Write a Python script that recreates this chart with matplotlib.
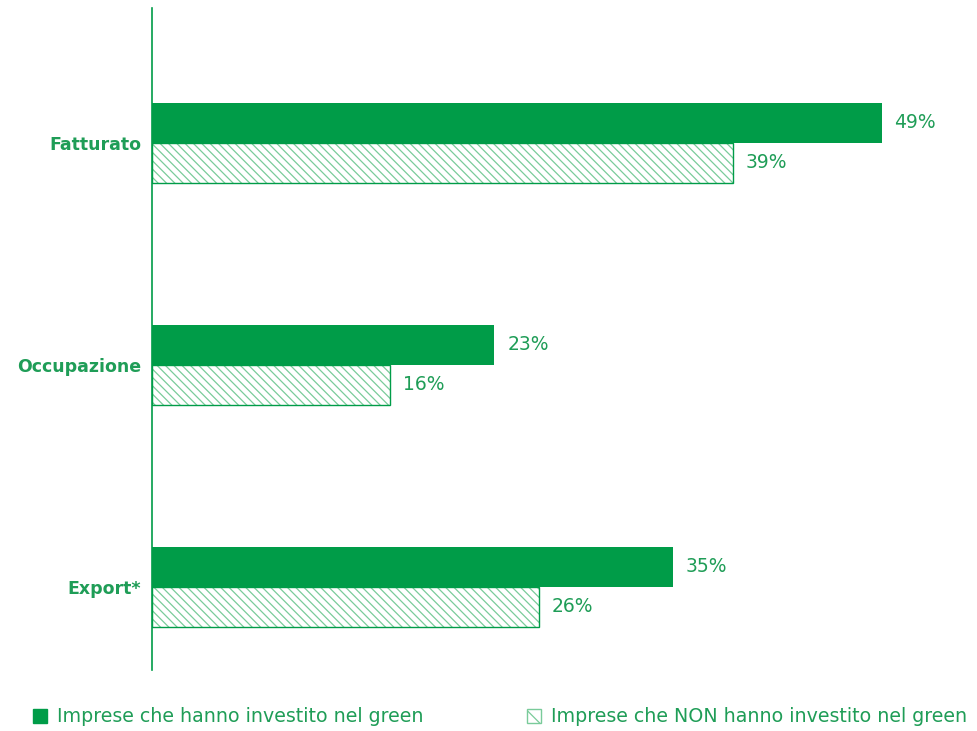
import matplotlib.pyplot as plt
from matplotlib.patches import Patch

categories = ["Fatturato", "Occupazione", "Export*"]
green_invest = [49, 23, 35]
non_invest = [39, 16, 26]
series_names = ["Imprese che hanno investito nel green",
                "Imprese che NON hanno investito nel green"]

GREEN = "#009c48"
LIGHT = "#7acb9a"
TEXT = "#1f9d57"
HATCH = "\\" * 4

plt.rcParams["font.family"] = ["DejaVu Sans"]
plt.rcParams["hatch.linewidth"] = 0.9

fig = plt.figure(figsize=(9.77, 7.31), dpi=100)
ax = fig.add_axes([152 / 977, 1 - 670 / 731, 819 / 977, 662 / 731])

h = 0.18
ys = list(range(len(categories)))
ax.barh([y - h / 2 for y in ys], green_invest, height=h, color=GREEN, linewidth=0)
ax.barh([y + h / 2 for y in ys], non_invest, height=h, facecolor="white",
        edgecolor=LIGHT, hatch=HATCH, linewidth=0)
ax.barh([y + h / 2 for y in ys], non_invest, height=h, facecolor="none",
        edgecolor=GREEN, linewidth=1.0)

for y, v in zip(ys, green_invest):
    ax.text(v + 0.85, y - h / 2, f"{v}%", va="center", ha="left",
            color=TEXT, fontsize=13.5)
for y, v in zip(ys, non_invest):
    ax.text(v + 0.85, y + h / 2, f"{v}%", va="center", ha="left",
            color=TEXT, fontsize=13.5)

ax.set_xlim(0, 55)
ax.set_ylim(2.374, -0.608)
ax.set_yticks(ys)
ax.set_yticklabels(categories, fontsize=12.5, fontweight="bold", color=TEXT)
ax.tick_params(axis="y", length=0, pad=8)
ax.set_xticks([])
for s in ["top", "right", "bottom"]:
    ax.spines[s].set_visible(False)
ax.spines["left"].set_color(GREEN)
ax.spines["left"].set_linewidth(1.2)

handles = [Patch(facecolor=GREEN, edgecolor=GREEN),
           Patch(facecolor="white", edgecolor=LIGHT, hatch="\\\\")]
leg = fig.legend(handles, series_names, loc="center left",
                 bbox_to_anchor=(33 / 977, 1 - 717 / 731), ncol=2, frameon=False,
                 fontsize=13.7, handlelength=0.75, handleheight=0.75,
                 handletextpad=0.53, columnspacing=5.4, borderpad=0,
                 borderaxespad=0)
for t in leg.get_texts():
    t.set_color(TEXT)

fig.savefig("out.png", dpi=100)
